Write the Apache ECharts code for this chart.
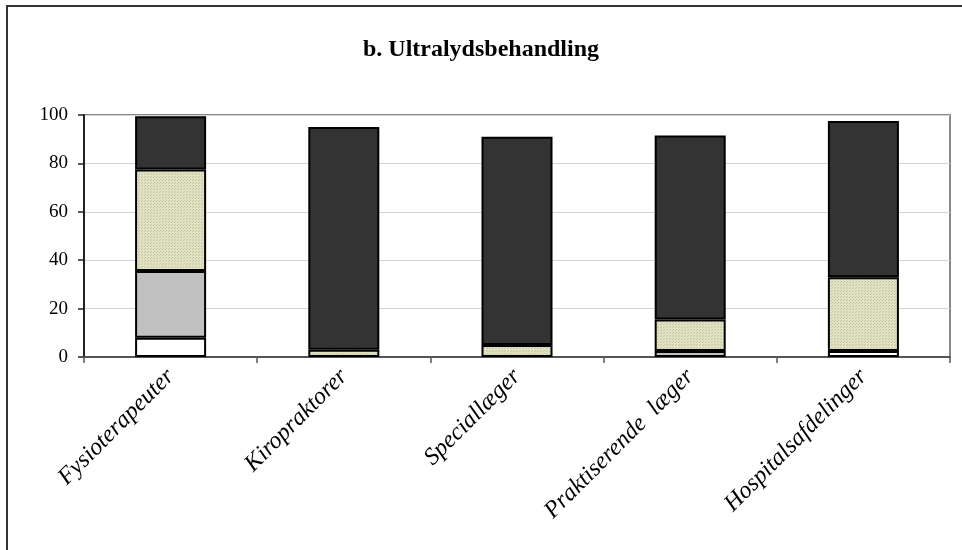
<!DOCTYPE html>
<html>
<head>
<meta charset="utf-8">
<script src="https://cdn.jsdelivr.net/npm/echarts@6/dist/echarts.min.js"></script>
<style>html,body{margin:0;padding:0;background:#fff;}#c{width:962px;height:550px;}</style>
</head>
<body>
<div id="c"></div>
<script>
const categories = ['Fysioterapeuter', 'Kiropraktorer', 'Speciallæger', 'Praktiserende  læger', 'Hospitalsafdelinger'];
const seriesWhite = [8, 0, 0, 0, 2.5];
const seriesGray = [27.5, 0, 0, 2.5, 0];
const seriesBeige = [42, 3, 5, 13, 30.5];
const seriesDark = [22, 92, 86, 76, 64.5];
const yTicks = { min: 0, max: 100, interval: 20 };
const titleText = 'b. Ultralydsbehandling';

const pc = document.createElement('canvas');
pc.width = 3; pc.height = 3;
const px = pc.getContext('2d');
px.fillStyle = '#e2e2c4'; px.fillRect(0, 0, 3, 3);
px.fillStyle = '#c4c49c'; px.fillRect(0, 0, 1, 1); px.fillRect(1, 2, 1, 1);

const chart = echarts.init(document.getElementById('c'), null, { renderer: 'canvas' });
const font = '"Liberation Serif", "Times New Roman", serif';
function bar(name, data, color) {
  return {
    name: name, type: 'bar', stack: 'all', data: data.map(v => v === 0 ? '-' : v), barWidth: '41%',
    itemStyle: { color: color, borderColor: '#000', borderWidth: 2 },
    emphasis: { disabled: true }
  };
}
chart.setOption({
  animation: false,
  title: { text: titleText, left: 'center', top: 33, textStyle: { fontFamily: font, fontWeight: 'bold', fontSize: 24, color: '#000' } },
  graphic: [{ type: 'rect', shape: { x: 7, y: 6, width: 1100, height: 700 }, style: { fill: 'none', stroke: '#333', lineWidth: 2 }, silent: true }],
  grid: { left: 84, right: 12, top: 115, bottom: 193, show: true, borderColor: '#888', borderWidth: 2, backgroundColor: 'transparent' },
  xAxis: {
    type: 'category', data: categories,
    axisLine: { lineStyle: { color: '#555', width: 2 } },
    axisTick: { show: true, length: 6, lineStyle: { color: '#555', width: 1.5 } },
    axisLabel: { rotate: 45, interval: 0, margin: 16, fontFamily: font, fontStyle: 'italic', fontSize: 24, color: '#000' }
  },
  yAxis: {
    type: 'value', min: yTicks.min, max: yTicks.max, interval: yTicks.interval,
    axisLine: { show: true, lineStyle: { color: '#222', width: 2 } },
    axisTick: { show: true, length: 6, lineStyle: { color: '#222', width: 1.5 } },
    splitLine: { show: true, lineStyle: { color: '#d4d4d4', width: 1 } },
    axisLabel: { margin: 16, fontFamily: font, fontSize: 19, color: '#000' }
  },
  series: [
    bar('A', seriesWhite, '#ffffff'),
    bar('B', seriesGray, '#c0c0c0'),
    bar('C', seriesBeige, { image: pc, repeat: 'repeat' }),
    bar('D', seriesDark, '#333333')
  ]
});
</script>
</body>
</html>
